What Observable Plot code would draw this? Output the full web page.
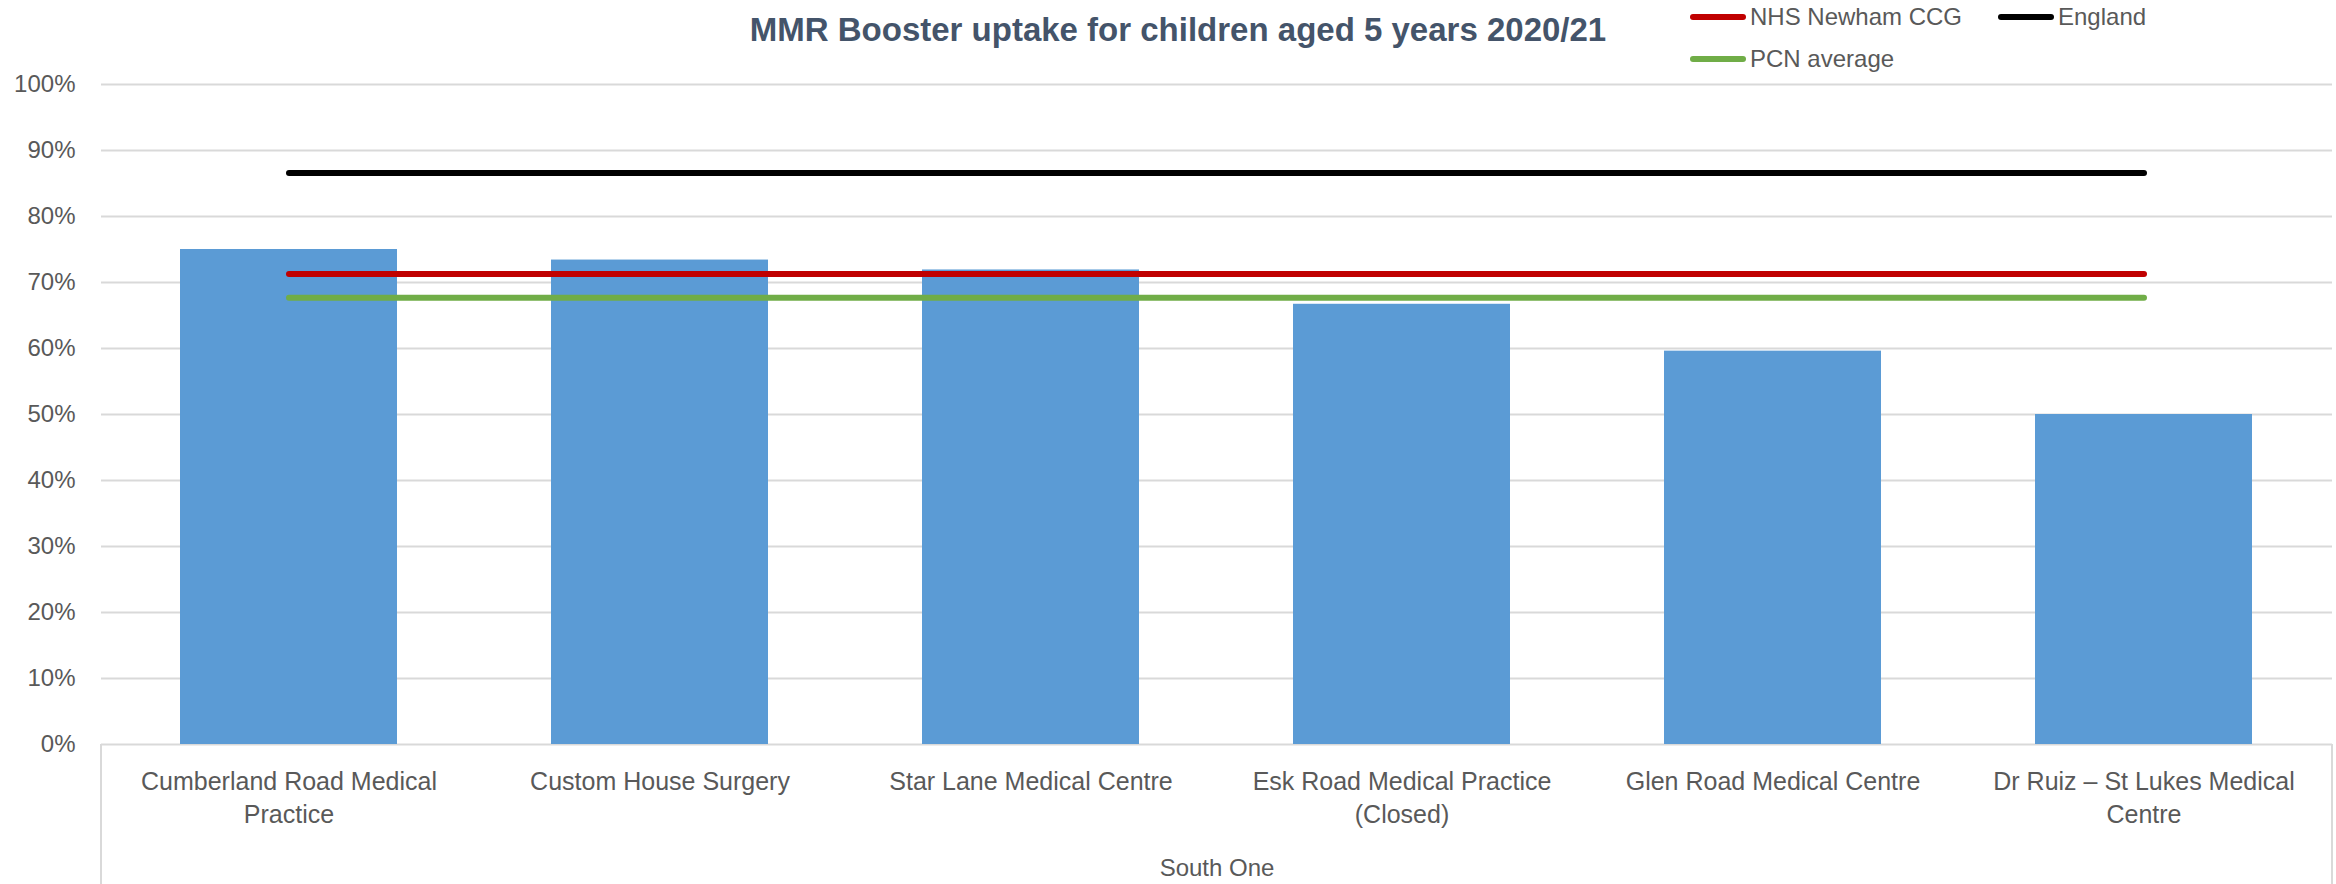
<!DOCTYPE html>
<html><head><meta charset="utf-8">
<script src="https://cdn.jsdelivr.net/npm/d3@7"></script>
<script src="https://cdn.jsdelivr.net/npm/@observablehq/plot@0.6"></script>
<style>
body{margin:0;background:#fff;}
#wrap{position:relative;width:2336px;height:884px;font-family:"Liberation Sans",Arial,sans-serif;overflow:hidden;}
#title{position:absolute;left:0;top:10px;width:2356px;text-align:center;font-weight:bold;font-size:33px;color:#44546A;line-height:40px;}
.leg{position:absolute;display:flex;align-items:center;font-size:24px;color:#595959;line-height:28px;}
.sw{display:inline-block;width:56px;height:6px;border-radius:3px;margin-right:4px;}
</style></head>
<body><div id="wrap"><div id="title">MMR Booster uptake for children aged 5 years 2020/21</div></div>
<script>
const categories = [
  "Cumberland Road Medical Practice",
  "Custom House Surgery",
  "Star Lane Medical Centre",
  "Esk Road Medical Practice (Closed)",
  "Glen Road Medical Centre",
  "Dr Ruiz – St Lukes Medical Centre"
];
const tickLabels = [
  "Cumberland Road Medical\nPractice",
  "Custom House Surgery",
  "Star Lane Medical Centre",
  "Esk Road Medical Practice\n(Closed)",
  "Glen Road Medical Centre",
  "Dr Ruiz – St Lukes Medical\nCentre"
];
const uptake = [0.75, 0.734, 0.719, 0.667, 0.596, 0.50];
const seriesNames = ["NHS Newham CCG", "England", "PCN average"];
const seriesValues = [0.713, 0.866, 0.677];
const seriesColors = ["#C00000", "#000000", "#70AD47"];
const yTicks = [0, 0.1, 0.2, 0.3, 0.4, 0.5, 0.6, 0.7, 0.8, 0.9, 1.0];
const groupLabel = "South One";

const bars = categories.map((c, i) => ({category: c, value: uptake[i]}));
const lineData = seriesNames.flatMap((s, j) => categories.map(c => ({category: c, value: seriesValues[j], series: s})));
const labelOf = new Map(categories.map((c, i) => [c, tickLabels[i]]));

const plot = Plot.plot({
  width: 2336, height: 884,
  marginLeft: 101, marginRight: 4, marginTop: 84, marginBottom: 140,
  style: {fontFamily: '"Liberation Sans", Arial, sans-serif', fontSize: "24px", color: "#595959", background: "#fff"},
  x: {domain: categories, paddingInner: 0.414, paddingOuter: 0.207, label: null},
  y: {domain: [0, 1], label: null},
  color: {domain: seriesNames, range: seriesColors},
  marks: [
    Plot.gridY(yTicks, {stroke: "#d9d9d9", strokeOpacity: 1, strokeWidth: 2}),
    Plot.barY(bars, {x: "category", y: "value", fill: "#5B9BD5"}),
    Plot.line(lineData, {x: "category", y: "value", z: "series", stroke: "series", strokeWidth: 6, strokeLinecap: "round"}),
    Plot.axisY({ticks: yTicks, tickFormat: d3.format(".0%"), tickSize: 0, tickPadding: 26, fontSize: 24, label: null}),
    Plot.axisX({tickSize: 0, tickPadding: 22, tickFormat: d => labelOf.get(d), fontSize: 25, lineHeight: 1.32, label: null}),
    Plot.text([groupLabel], {frameAnchor: "bottom", lineAnchor: "middle", dy: 124, fontSize: 24, fill: "#595959"})
  ]
});
document.getElementById("wrap").appendChild(plot);

// group box vertical borders, positioned with the plot's x scale range
const xr = plot.scale("x").range;
const svg = d3.select(plot);
const yBottom = 884 - 140;
[xr[0], xr[1]].forEach(x => {
  svg.append("line").attr("x1", x).attr("x2", x).attr("y1", yBottom).attr("y2", 884)
    .attr("stroke", "#d9d9d9").attr("stroke-width", 2);
});

// legend
const legPos = [[1690, 3], [1998, 3], [1690, 45]];
const wrap = document.getElementById("wrap");
seriesNames.forEach((s, j) => {
  const d = document.createElement("div");
  d.className = "leg";
  d.style.left = legPos[j][0] + "px";
  d.style.top = legPos[j][1] + "px";
  d.innerHTML = `<span class="sw" style="background:${seriesColors[j]}"></span><span>${s}</span>`;
  wrap.appendChild(d);
});
</script>
</body></html>
